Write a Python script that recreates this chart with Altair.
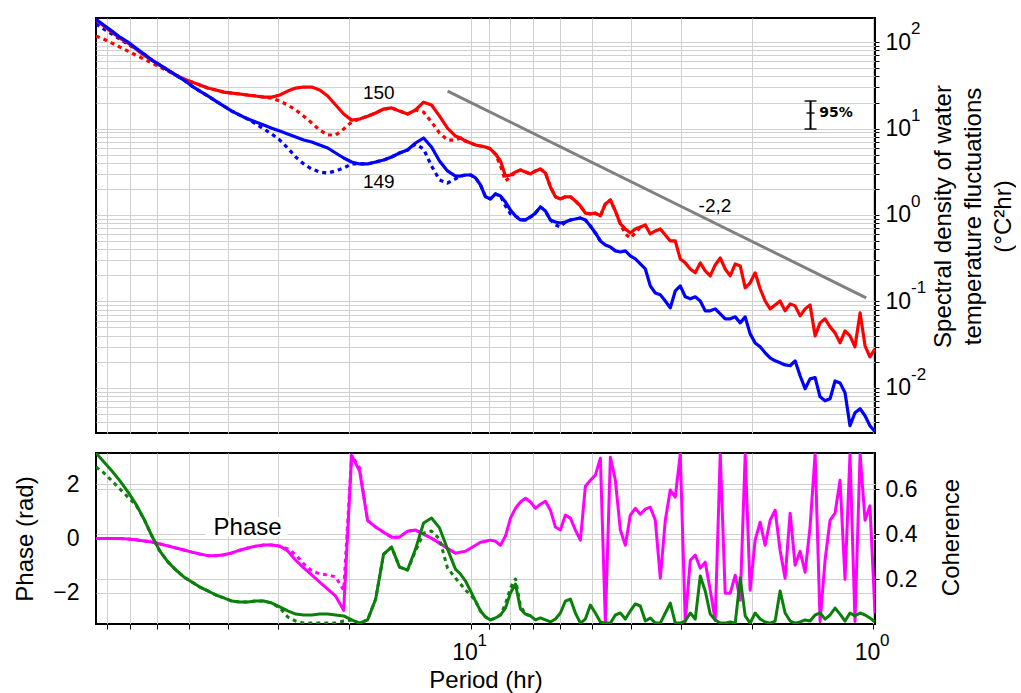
import altair as alt
import pandas as pd

# Sample periods (hr), shared by every series below
PERIOD = [
    85.21, 81.40, 77.77, 74.29, 70.97, 67.80, 64.77, 61.88, 59.11, 56.47,
    53.95, 51.54, 49.24, 47.04, 44.94, 42.93, 41.01, 39.18, 37.43, 35.76,
    34.16, 32.63, 31.17, 29.78, 28.45, 27.18, 25.97, 24.81, 23.70, 22.64,
    21.63, 20.66, 19.74, 18.86, 18.02, 17.21, 16.44, 15.71, 15.01, 14.34,
    13.70, 13.08, 12.50, 11.94, 11.41, 10.90,
    10.59, 10.29, 10.00, 9.718, 9.444, 9.178, 8.920, 8.669, 8.425, 8.188,
    7.957, 7.733, 7.515, 7.304, 7.098, 6.898, 6.704, 6.515, 6.332, 6.153,
    5.980, 5.812, 5.648, 5.489, 5.334, 5.184, 5.038, 4.896, 4.758, 4.624,
    4.494, 4.367, 4.244, 4.125, 4.009, 3.896, 3.786, 3.679, 3.576, 3.475,
    3.377, 3.282, 3.190, 3.100, 3.013, 2.928, 2.845, 2.765, 2.687, 2.612,
    2.538, 2.467, 2.397, 2.330, 2.264, 2.200, 2.138, 2.078, 2.020, 1.963,
    1.908, 1.854, 1.802, 1.751, 1.702, 1.654, 1.607, 1.562, 1.518, 1.475,
    1.434, 1.393, 1.354, 1.316, 1.279, 1.243, 1.208, 1.174, 1.141, 1.109,
    1.077, 1.047, 1.018, 0.989,
]

# Spectral density (degC^2 hr), station 150
RED_SOLID = [
    180, 153, 130, 111, 97.4, 83.0, 70.7, 61.9, 54.2, 47.5,
    41.5, 37.4, 34.5, 31.8, 29.4, 27.9, 26.4, 25.7, 25.1, 24.4,
    23.8, 23.1, 23.1, 24.4, 27.1, 29.4, 30.2, 30.2, 27.9, 23.8,
    18.7, 14.7, 12.5, 12.9, 13.9, 15.1, 16.8, 17.3, 15.9, 14.7,
    16.4, 20.2, 18.7, 13.9, 10.1, 8.19,
    7.77, 7.17, 6.80, 6.45, 6.28, 6.11, 5.79, 5.07, 4.21, 2.82,
    2.90, 3.14, 3.31, 3.14, 2.98, 3.23, 3.40, 3.06, 2.11, 1.62,
    1.53, 1.62, 1.62, 1.45, 1.27, 1.05, 1.03, 1.05, 0.974, 1.34,
    1.49, 1.11, 0.787, 0.689, 0.619, 0.689, 0.727, 0.766, 0.603, 0.653,
    0.689, 0.587, 0.500, 0.500, 0.310, 0.279, 0.237, 0.214, 0.279, 0.225,
    0.197, 0.264, 0.318, 0.237, 0.197, 0.271, 0.257, 0.143, 0.164, 0.214,
    0.140, 0.101, 0.0819, 0.0911, 0.101, 0.0777, 0.0936, 0.0887, 0.0680, 0.0819,
    0.0911, 0.0399, 0.0564, 0.0628, 0.0507, 0.0432, 0.0331, 0.0456, 0.0399, 0.0298,
    0.0736, 0.0306, 0.0228, 0.0282,
]
RED_DASHED = [
    117, 108, 97.4, 87.5, 78.7, 70.7, 63.6, 57.2, 51.4, 46.2,
    41.5, 37.4, 34.5, 31.8, 29.4, 27.9, 26.4, 25.7, 25.1, 24.4,
    23.8, 23.1, 22.5, 20.8, 18.7, 16.4, 13.9, 11.6, 9.61, 8.41,
    8.41, 9.87, 11.9, 12.9, 13.9, 15.1, 16.8, 17.3, 15.9, 14.7,
    16.4, 15.5, 11.9, 8.87, 7.36, 7.36,
    7.77, 7.17, 6.80, 6.45, 6.28, 6.11, 5.79, 5.07, 3.69, 2.47,
    2.75, 3.14, 3.31, 3.14, 2.98, 3.23, 3.40, 3.06, 2.11, 1.62,
    1.53, 1.62, 1.62, 1.45, 1.27, 1.05, 1.03, 1.05, 0.974, 1.34,
    1.49, 1.11, 0.787, 0.603, 0.542, 0.619, 0.727,
]

# Spectral density (degC^2 hr), station 149
BLUE_SOLID = [
    184, 157, 134, 114, 100, 85.2, 72.7, 61.9, 54.2, 47.5,
    41.5, 36.4, 31.0, 27.1, 23.8, 20.8, 18.2, 15.9, 14.3, 12.9,
    11.9, 11.0, 10.1, 9.36, 8.64, 7.97, 7.36, 6.98, 6.45, 5.95,
    5.21, 4.56, 4.10, 3.89, 3.89, 4.10, 4.32, 4.68, 5.21, 5.64,
    6.80, 7.77, 6.11, 4.21, 3.23, 2.82,
    2.82, 2.90, 2.90, 2.68, 2.22, 1.62, 1.53, 1.75, 1.66, 1.41,
    1.14, 0.974, 0.875, 0.875, 0.948, 1.05, 1.24, 1.11, 0.875, 0.830,
    0.808, 0.830, 0.875, 0.899, 0.923, 0.875, 0.746, 0.619, 0.500, 0.450,
    0.427, 0.384, 0.373, 0.384, 0.336, 0.310, 0.271, 0.237, 0.151, 0.125,
    0.119, 0.101, 0.0841, 0.132, 0.151, 0.113, 0.107, 0.113, 0.101, 0.0777,
    0.0777, 0.0819, 0.0717, 0.0628, 0.0628, 0.0662, 0.0564, 0.0662, 0.0421, 0.0331,
    0.0298, 0.0254, 0.0222, 0.0205, 0.0195, 0.0184, 0.0180, 0.0205, 0.0138, 0.00974,
    0.0127, 0.0131, 0.00787, 0.00708, 0.00746, 0.0120, 0.0114, 0.00875, 0.00364, 0.00514,
    0.00572, 0.00475, 0.00364, 0.00310,
]
BLUE_DASHED = [
    162, 141, 124, 108, 94.8, 83.0, 72.7, 61.9, 54.2, 47.5,
    41.5, 36.4, 31.0, 27.1, 23.8, 20.8, 18.2, 15.9, 14.3, 12.9,
    11.3, 9.87, 8.64, 7.36, 5.95, 4.68, 3.89, 3.40, 3.14, 3.06,
    3.23, 3.49, 3.89, 3.89, 3.89, 4.10, 4.32, 4.68, 5.21, 5.64,
    6.62, 5.79, 3.69, 2.54, 2.34, 2.61,
    2.82, 2.90, 2.90, 2.68, 2.22, 1.62, 1.53, 1.75, 1.66, 1.27,
    1.03, 0.974, 0.875, 0.875, 0.948, 1.05, 1.24, 1.11, 0.875, 0.766,
    0.727, 0.830, 0.875, 0.899, 0.923, 0.875, 0.746, 0.619, 0.500,
]

# Phase (rad) between the two records
PHASE_SOLID = [
    0.0, 0.0, 0.0, 0.0, -0.02, -0.05, -0.09, -0.13, -0.20, -0.27,
    -0.35, -0.42, -0.50, -0.57, -0.63, -0.63, -0.60, -0.53, -0.43, -0.35,
    -0.28, -0.24, -0.24, -0.28, -0.46, -0.80, -1.08, -1.34, -1.60, -1.86,
    -2.12, -2.64, 3.05, 2.48, 0.66, 0.42, 0.23, 0.05, 0.05, 0.27,
    0.31, 0.16, 0.01, -0.17, -0.36, -0.54,
    -0.50, -0.47, -0.36, -0.25, -0.14, -0.10, -0.06, -0.10, -0.25, 0.09,
    0.75, 1.11, 1.34, 1.48, 1.34, 1.11, 1.26, 1.37, 1.04, 0.42,
    0.31, 0.86, 0.75, 0.31, -0.06, 1.92, 2.14, 2.33, 2.95, -3.10,
    2.99, 2.14, 0.31, -0.25, 0.86, 1.11, 0.89, 1.08, 1.15, 0.67,
    -1.46, 0.67, 1.78, 1.52, 3.10, -3.05, -0.80, -0.61, -1.09, -0.87,
    -1.90, -3.00, 3.10, -2.01, -2.01, -1.35, -2.27, 3.10, -1.90, -0.06,
    0.60, -0.25, 0.67, 1.04, -0.43, -1.46, 0.93, -0.98, -0.47, -1.24,
    0.42, 3.10, -3.05, -0.80, 0.67, 0.93, 2.14, -1.50, 3.10, -3.05,
    3.10, 0.67, 1.20, -2.75,
]
PHASE_DASHED = [
    0.0, 0.0, 0.0, 0.0, -0.02, -0.05, -0.09, -0.13, -0.20, -0.27,
    -0.35, -0.42, -0.50, -0.57, -0.63, -0.63, -0.60, -0.53, -0.43, -0.35,
    -0.28, -0.24, -0.24, -0.28, -0.38, -0.60, -0.93, -1.19, -1.30, -1.34,
    -1.41, -1.90, 3.05, 2.60, 0.66, 0.42, 0.23, 0.05, 0.05, 0.27,
    0.31, 0.16, 0.01, -0.17, -0.36, -0.54,
]

# Coherence between the two records
COH_SOLID = [
    0.760, 0.720, 0.680, 0.636, 0.587, 0.533, 0.467, 0.391, 0.324, 0.276,
    0.240, 0.209, 0.187, 0.164, 0.147, 0.129, 0.116, 0.102, 0.098, 0.098,
    0.102, 0.102, 0.093, 0.076, 0.058, 0.044, 0.040, 0.040, 0.044, 0.044,
    0.040, 0.036, 0.018, 0.004, 0.018, 0.110, 0.311, 0.342, 0.253, 0.240,
    0.333, 0.449, 0.471, 0.427, 0.333, 0.244,
    0.222, 0.191, 0.147, 0.102, 0.058, 0.031, 0.018, 0.027, 0.040, 0.071,
    0.138, 0.178, 0.067, 0.044, 0.036, 0.018, 0.027, 0.018, 0.009, 0.022,
    0.049, 0.102, 0.111, 0.049, 0.004, 0.022, 0.084, 0.049, 0.009, 0.004,
    0.004, 0.040, 0.049, 0.022, 0.058, 0.089, 0.080, 0.013, 0.027, 0.004,
    0.004, 0.049, 0.093, 0.004, 0.004, 0.013, 0.049, 0.022, 0.213, 0.147,
    0.044, 0.018, 0.004, 0.004, 0.009, 0.004, 0.204, 0.036, 0.004, 0.049,
    0.022, 0.009, 0.004, 0.013, 0.147, 0.049, 0.013, 0.004, 0.009, 0.018,
    0.013, 0.040, 0.049, 0.022, 0.040, 0.071, 0.044, 0.013, 0.049, 0.036,
    0.049, 0.040, 0.027, 0.009,
]
COH_DASHED = [
    0.698, 0.671, 0.636, 0.600, 0.564, 0.529, 0.467, 0.391, 0.324, 0.276,
    0.240, 0.209, 0.187, 0.164, 0.147, 0.129, 0.116, 0.102, 0.098, 0.098,
    0.102, 0.102, 0.093, 0.071, 0.031, 0.013, 0.004, 0.004, 0.004, 0.004,
    0.004, 0.013, 0.018, 0.004, 0.018, 0.110, 0.311, 0.342, 0.253, 0.240,
    0.324, 0.404, 0.413, 0.378, 0.249, 0.204,
    0.178, 0.150, 0.130, 0.102, 0.058, 0.031, 0.018, 0.027, 0.040, 0.090,
    0.160, 0.200, 0.080, 0.044, 0.036,
]

# Reference slope line (-2.2) and annotations
SLOPE_PERIOD = [11.4, 1.04]
SLOPE_DENSITY = [27.1, 0.110]
NOTE_PERIOD = [16.9, 16.9, 2.47]
NOTE_DENSITY = [25.7, 2.41, 1.27]
NOTE_TEXT = ["150", "149", "-2,2"]
CI_PERIOD = 1.43
CI_LOW, CI_MID, CI_HIGH = 9.87, 15.1, 20.8

# Decade labels: mantissa "10" comes from the axes, exponents drawn as raised text
DENSITY_DECADES = [100, 10, 1, 0.1, 0.01]
DENSITY_EXPONENTS = ["2", "1", "0", "-1", "-2"]
PERIOD_DECADES = [10, 1]
PERIOD_EXPONENTS = ["1", "0"]

FONT = "Liberation Sans"
RED, BLUE, MAGENTA, GREEN, GREY = "#ff0000", "#0000ff", "#ff00ff", "#0a800a", "#808080"

X_TICKS = [1, 2, 3, 4, 5, 6, 7, 8, 9, 10, 20, 30, 40, 50, 60, 70, 80]
Y_TICKS = [round(m * 10.0 ** e, 6) for e in range(-3, 2) for m in range(1, 10)] + [100]
Y_TICKS = [v for v in Y_TICKS if v >= 0.004]

P_MIN, P_MAX = 0.989, 85.2
x_scale = alt.Scale(type="log", domain=[P_MIN, P_MAX], reverse=True)
s_scale = alt.Scale(type="log", domain=[0.003, 190])
PHASE_LIM = 3.1416


def series(values):
    n = min(len(values), len(PERIOD))
    return pd.DataFrame({"period": PERIOD[:n], "value": values[:n]})


decade_label = (
    "(abs(datum.value-100)<1e-9 || abs(datum.value-10)<1e-9 || abs(datum.value-1)<1e-9 || "
    "abs(datum.value-0.1)<1e-9 || abs(datum.value-0.01)<1e-9) ? '10' : ''"
)

x_top = alt.X(
    "period:Q", scale=x_scale,
    axis=alt.Axis(values=X_TICKS, labels=False, ticks=False, domain=False,
                  grid=True, title=None, minExtent=0, maxExtent=0),
)
y_top = alt.Y(
    "value:Q", scale=s_scale,
    axis=alt.Axis(orient="right", values=Y_TICKS, labelExpr=decade_label,
                  labelFontSize=23, labelOverlap=False, tickSize=4, labelPadding=6,
                  title=["Spectral density of water", "temperature fluctuations", "(°C²hr)"],
                  titleAngle=270, titleFontSize=24, titleLineHeight=30,
                  titleX=56, titleY=198, titleAlign="center", titleBaseline="top",
                  domain=False, grid=True),
)


def spec_line(values, color, dashed=False):
    opts = dict(color=color, strokeWidth=3.2, clip=True, strokeJoin="round")
    if dashed:
        opts["strokeDash"] = [4, 4]
    return alt.Chart(series(values)).mark_line(**opts).encode(x=x_top, y=y_top)


slope = alt.Chart(pd.DataFrame({"period": SLOPE_PERIOD, "value": SLOPE_DENSITY})).mark_line(
    color=GREY, strokeWidth=3).encode(x=x_top, y=y_top)

notes = alt.Chart(pd.DataFrame({"period": NOTE_PERIOD, "value": NOTE_DENSITY, "label": NOTE_TEXT})).mark_text(
    font=FONT, fontSize=19, color="black").encode(x=x_top, y=y_top, text="label:N")

ci_rule = alt.Chart(pd.DataFrame({"period": [CI_PERIOD], "value": [CI_LOW], "hi": [CI_HIGH]})).mark_rule(
    color="black", strokeWidth=2).encode(x=x_top, y=y_top, y2="hi:Q")
ci_caps = alt.Chart(pd.DataFrame({"period": [CI_PERIOD, CI_PERIOD], "value": [CI_LOW, CI_HIGH]})).mark_tick(
    orient="horizontal", size=12, thickness=2, color="black").encode(x=x_top, y=y_top)
ci_mid = alt.Chart(pd.DataFrame({"period": [CI_PERIOD], "value": [CI_MID]})).mark_tick(
    orient="horizontal", size=8, thickness=2, color="black").encode(x=x_top, y=y_top)
ci_text = alt.Chart(pd.DataFrame({"period": [1.36], "value": [CI_MID], "label": ["95%"]})).mark_text(
    font="DejaVu Sans", fontSize=14, fontWeight="bold", align="left", color="black").encode(
    x=x_top, y=y_top, text="label:N")

density_exp = alt.Chart(pd.DataFrame({
    "period": [P_MIN] * len(DENSITY_DECADES), "value": DENSITY_DECADES, "label": DENSITY_EXPONENTS,
})).mark_text(font=FONT, fontSize=17, align="left", baseline="middle", dx=36, dy=-13,
              color="black").encode(x=x_top, y=y_top, text="label:N")

top = alt.layer(
    spec_line(RED_DASHED, RED, True), spec_line(BLUE_DASHED, BLUE, True),
    spec_line(RED_SOLID, RED), spec_line(BLUE_SOLID, BLUE),
    slope, notes, ci_rule, ci_caps, ci_mid, ci_text, density_exp,
).properties(width=779, height=415)

x_bot = alt.X(
    "period:Q", scale=x_scale,
    axis=alt.Axis(values=X_TICKS,
                  labelExpr="(datum.value == 10 || datum.value == 1) ? '10' : ''",
                  labelFontSize=23, labelOverlap=False, labelFlush=False, labelOffset=-6,
                  tickSize=5, labelPadding=12, title="Period (hr)", titleFontSize=24,
                  titlePadding=4, domain=False, grid=True),
)
y_phase = alt.Y(
    "value:Q", scale=alt.Scale(domain=[-PHASE_LIM, PHASE_LIM], nice=False, zero=False),
    axis=alt.Axis(orient="left", values=[-2, 0, 2], labelFontSize=23, ticks=False,
                  labelPadding=17, title="Phase (rad)", titleFontSize=24, titlePadding=15,
                  domain=False, grid=True),
)
y_coh = alt.Y(
    "value:Q", scale=alt.Scale(domain=[0, 0.76], nice=False, zero=False),
    axis=alt.Axis(orient="right", values=[0.2, 0.4, 0.6], format=".1f", labelFontSize=23,
                  tickSize=4, labelPadding=6, title="Coherence", titleAngle=270,
                  titleFontSize=24, titleX=64, titleY=84, titleAlign="center",
                  titleBaseline="top", domain=False, grid=True),
)


def bottom_line(values, color, y, dashed=False):
    opts = dict(color=color, strokeWidth=3, clip=True, strokeJoin="round")
    if dashed:
        opts["strokeDash"] = [4, 4]
    return alt.Chart(series(values)).mark_line(**opts).encode(x=x_bot, y=y)


# white box behind the "Phase" tag
phase_box = alt.Chart(pd.DataFrame({"period": [45.5], "p2": [28.5], "value": [0.06], "v2": [0.80]})).mark_rect(
    color="white").encode(x=x_bot, x2="p2:Q", y=y_phase, y2="v2:Q")
phase_text = alt.Chart(pd.DataFrame({"period": [35.8], "value": [0.39], "label": ["Phase"]})).mark_text(
    font=FONT, fontSize=24, color="black").encode(x=x_bot, y=y_phase, text="label:N")

period_exp = alt.Chart(pd.DataFrame({
    "period": PERIOD_DECADES, "value": [-PHASE_LIM] * len(PERIOD_DECADES), "label": PERIOD_EXPONENTS,
})).mark_text(font=FONT, fontSize=17, align="left", baseline="middle", dx=7, dy=17,
              color="black").encode(x=x_bot, y=y_phase, text="label:N")

phase_layer = alt.layer(
    phase_box,
    bottom_line(PHASE_DASHED, MAGENTA, y_phase, True),
    bottom_line(PHASE_SOLID, MAGENTA, y_phase),
    phase_text,
    period_exp,
)
coh_layer = alt.layer(
    bottom_line(COH_DASHED, GREEN, y_coh, True),
    bottom_line(COH_SOLID, GREEN, y_coh),
)
bottom = alt.layer(phase_layer, coh_layer).resolve_scale(y="independent").properties(
    width=779, height=171)

chart = alt.vconcat(top, bottom, spacing=20, bounds="flush").properties(
    padding={"left": 12, "top": 17, "right": 0, "bottom": 0}
).configure(font=FONT).configure_view(
    stroke="black", strokeWidth=2
).configure_axis(
    gridColor="#d0d0d0", gridWidth=1, labelColor="black", titleColor="black",
    tickColor="black", labelFont=FONT, titleFont=FONT, titleFontWeight="normal",
)

chart.save("out.html", embed_options={"renderer": "svg", "actions": False})
